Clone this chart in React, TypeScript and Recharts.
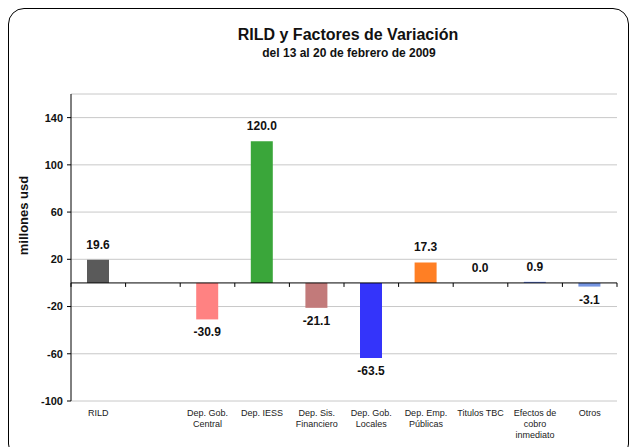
import { BarChart, Bar, XAxis, YAxis, CartesianGrid, ReferenceLine, LabelList, Cell } from "recharts";

// categories (line breaks as in the original)
const categories = [
  "RILD",
  "",
  "Dep. Gob.\nCentral",
  "Dep. IESS",
  "Dep. Sis.\nFinanciero",
  "Dep. Gob.\nLocales",
  "Dep. Emp.\nPúblicas",
  "Titulos TBC",
  "Efectos de\ncobro\ninmediato",
  "Otros",
];
const values: (number | null)[] = [19.6, null, -30.9, 120.0, -21.1, -63.5, 17.3, 0.0, 0.9, -3.1];
const barColors = ["#5a5a5a", "#ffffff", "#ff8282", "#3aa63a", "#c27a7a", "#3434fa", "#ff7f24", "#ffffff", "#5c7cee", "#7595e2"];
const yTicks = [-100, -60, -20, 20, 60, 100, 140];

const Y_MIN = -100;
const Y_MAX = 160;

const W = 634;
const H = 447;
const PLOT_TOP = 94;
const PLOT_BOTTOM = 401;
const PLOT_LEFT = 71;
const PLOT_RIGHT = 617;

const data = categories.map((c, i) => ({ key: `c${i}`, label: c, value: values[i] }));

const font = "'Liberation Sans', Arial, sans-serif";

const zeroY = PLOT_TOP + ((Y_MAX - 0) / (Y_MAX - Y_MIN)) * (PLOT_BOTTOM - PLOT_TOP);
const bandW = (PLOT_RIGHT - PLOT_LEFT) / categories.length;

const CategoryTick = (props: any) => {
  const { x, payload, index } = props;
  const item = data[index] ?? data.find((d) => d.key === payload.value);
  const lines = item ? item.label.split("\n") : [];
  const left = x - bandW / 2;
  return (
    <g>
      {/* tick marks sit on the zero line, between categories */}
      <line x1={x + bandW / 2} x2={x + bandW / 2} y1={zeroY} y2={zeroY + 4} stroke="#000" />
      {index === 0 && <line x1={left} x2={left} y1={zeroY} y2={zeroY + 4} stroke="#000" />}
      <text x={x} y={PLOT_BOTTOM + 15} textAnchor="middle" fontSize={9} fontFamily={font} fill="#222">
        {lines.map((l: string, i: number) => (
          <tspan key={i} x={x} dy={i === 0 ? 0 : 11}>
            {l}
          </tspan>
        ))}
      </text>
    </g>
  );
};

const ValueLabel = (props: any) => {
  const { x, y, width, height, value } = props;
  if (value === null || value === undefined) return null;
  const top = Math.min(y, y + height);
  const bottom = Math.max(y, y + height);
  const cx = x + width / 2;
  const ty = value >= 0 ? top - 11 : bottom + 17;
  return (
    <text x={cx} y={ty} textAnchor="middle" fontSize={12} fontWeight="bold" fontFamily={font} fill="#111">
      {value.toFixed(1)}
    </text>
  );
};

export default function App() {
  return (
    <div style={{ position: "absolute", left: 0, top: 0, width: W, height: H, background: "#fff", overflow: "hidden" }}>
      <div
        style={{
          position: "absolute",
          left: 8,
          top: 8,
          width: 619,
          height: 450,
          border: "1px solid #000",
          borderRadius: 16,
        }}
      />
      <div
        style={{
          position: "absolute",
          left: 0,
          width: 696,
          top: 26,
          textAlign: "center",
          fontFamily: font,
          fontWeight: "bold",
          fontSize: 16,
          color: "#111",
        }}
      >
        RILD y Factores de Variación
      </div>
      <div
        style={{
          position: "absolute",
          left: 0,
          width: 698,
          top: 46,
          textAlign: "center",
          fontFamily: font,
          fontWeight: "bold",
          fontSize: 12,
          color: "#111",
        }}
      >
        del 13 al 20 de febrero de 2009
      </div>
      <div style={{ position: "absolute", left: 0, top: 0 }}>
        <BarChart
          width={W}
          height={H}
          data={data}
          margin={{ top: PLOT_TOP, right: W - PLOT_RIGHT, left: PLOT_LEFT - 50, bottom: 6 }}
        >
          <CartesianGrid horizontal vertical={false} stroke="#c8c8c8" ticks={yTicks} />
          <XAxis
            dataKey="key"
            height={H - PLOT_BOTTOM - 6}
            axisLine={false}
            tickLine={false}
            interval={0}
            tick={<CategoryTick />}
          />
          <YAxis
            width={50}
            domain={[Y_MIN, Y_MAX]}
            ticks={yTicks}
            allowDataOverflow
            axisLine={{ stroke: "#000" }}
            tickLine={{ stroke: "#000" }}
            tickSize={4}
            tick={{ fontSize: 11, fontWeight: "bold", fontFamily: font, fill: "#111" }}
            tickMargin={4}
            label={{
              value: "millones usd",
              angle: -90,
              position: "insideLeft",
              dx: -3,
              dy: -32,
              style: { textAnchor: "middle", fontSize: 13, fontWeight: "bold", fontFamily: font, fill: "#111" },
            }}
          />
          <ReferenceLine y={0} stroke="#000" strokeWidth={1} />
          <Bar
            dataKey="value"
            barSize={22}
            isAnimationActive={false}
            minPointSize={(v: any) => (v === 0 ? 0.01 : 0)}
          >
            {data.map((d, i) => (
              <Cell key={d.key} fill={barColors[i]} />
            ))}
            <LabelList dataKey="value" content={<ValueLabel />} />
          </Bar>
        </BarChart>
      </div>
    </div>
  );
}
